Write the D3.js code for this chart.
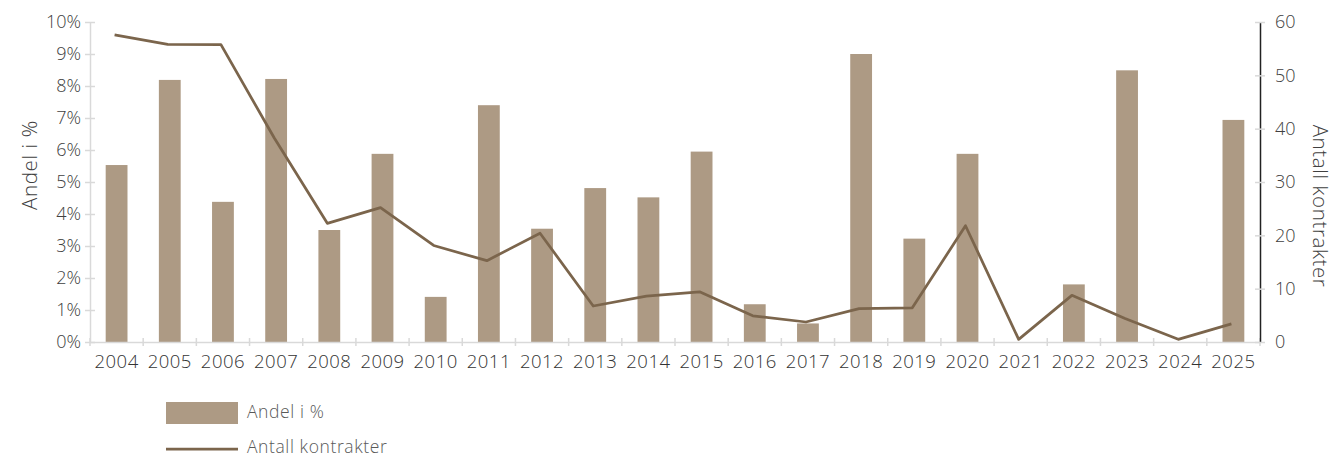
<!DOCTYPE html>
<html>
<head>
<meta charset="utf-8">
<script src="https://cdn.jsdelivr.net/npm/d3@7"></script>
<style>
  html, body { margin: 0; padding: 0; background: #fff; }
  svg { display: block; font-family: "Open Sans", "Noto Sans", sans-serif; font-weight: 300; }
</style>
</head>
<body>
<svg id="chart" width="1335" height="458"></svg>
<script>
// Years on the category axis
const years = ["2004","2005","2006","2007","2008","2009","2010","2011","2012","2013","2014",
               "2015","2016","2017","2018","2019","2020","2021","2022","2023","2024","2025"];
// Share in percent (bars, left axis)
const andel = [5.53, 8.19, 4.38, 8.22, 3.5, 5.88, 1.41, 7.4, 3.54, 4.81, 4.52,
               5.95, 1.18, 0.58, 9.0, 3.23, 5.88, 0, 1.8, 8.49, 0, 6.94];
// Number of contracts (line, right axis)
const antall = [57.6, 55.8, 55.75, 38.3, 22.25, 25.2, 18.1, 15.25, 20.4, 6.75, 8.6,
                9.4, 4.9, 3.75, 6.25, 6.4, 21.8, 0.5, 8.75, 4.4, 0.5, 3.4];
// Axis ticks
const leftTicks = [0,1,2,3,4,5,6,7,8,9,10];
const rightTicks = [0,10,20,30,40,50,60];

const barColor = "#ad9a84";
const lineColor = "#7b654c";
const gridGrey = "#d9d9d9";
const textColor = "#404040";

const svg = d3.select("#chart");
const m = { left: 90, right: 1260, top: 22, bottom: 342 };

const x = d3.scaleBand().domain(years).range([m.left, m.right]).paddingInner(0).paddingOuter(0);
const yL = d3.scaleLinear().domain([0, 10]).range([m.bottom, m.top]);
const yR = d3.scaleLinear().domain([0, 60]).range([m.bottom, m.top]);

// Bars
const barW = x.bandwidth() * 0.41;
svg.append("g").selectAll("rect").data(years).join("rect")
  .attr("x", (d) => x(d) + (x.bandwidth() - barW) / 2)
  .attr("width", barW)
  .attr("y", (d, i) => yL(andel[i]))
  .attr("height", (d, i) => yL(0) - yL(andel[i]))
  .attr("fill", barColor);

// Left axis
const gL = svg.append("g").attr("transform", `translate(${m.left},0)`)
  .call(d3.axisLeft(yL).tickValues(leftTicks).tickFormat(d => d + "%").tickSize(0).tickPadding(9));
gL.select(".domain").attr("stroke", gridGrey).attr("stroke-width", 1.5);
gL.selectAll(".tick").append("line").attr("x1", -5).attr("x2", 5).attr("stroke", gridGrey).attr("stroke-width", 1.5);
gL.selectAll("text").attr("font-size", 18).attr("fill", textColor).attr("font-family", "Open Sans").attr("font-weight", 300);

// Bottom axis
const gB = svg.append("g").attr("transform", `translate(0,${m.bottom})`)
  .call(d3.axisBottom(x).tickSize(0).tickPadding(13));
gB.select(".domain").attr("stroke", gridGrey).attr("stroke-width", 1.5);
gB.selectAll(".tick line").remove();
gB.selectAll("text").attr("font-size", 18.5).attr("letter-spacing", 0.5).attr("fill", "#333")
  .attr("font-family", "Open Sans").attr("font-weight", 300);
// Tick marks on the category boundaries
const bounds = years.map(d => x(d)).concat([m.right]);
gB.selectAll(".bound").data(bounds).join("line").attr("class", "bound")
  .attr("x1", d => d).attr("x2", d => d).attr("y1", -4).attr("y2", 4)
  .attr("stroke", gridGrey).attr("stroke-width", 1.5);

// Right axis
const gR = svg.append("g").attr("transform", `translate(${m.right},0)`)
  .call(d3.axisRight(yR).tickValues(rightTicks).tickSize(0).tickPadding(15));
gR.select(".domain").attr("stroke", "#222").attr("stroke-width", 1.5);
gR.selectAll(".tick").append("line").attr("x1", -5).attr("x2", 5).attr("stroke", gridGrey).attr("stroke-width", 1.5);
gR.selectAll("text").attr("font-size", 18).attr("fill", textColor).attr("font-family", "Open Sans").attr("font-weight", 300);

// Line
const line = d3.line()
  .x((d, i) => x(years[i]) + x.bandwidth() / 2 - 2)
  .y(d => yR(d));
svg.append("path").datum(antall)
  .attr("d", line)
  .attr("fill", "none")
  .attr("stroke", lineColor)
  .attr("stroke-width", 2.75)
  .attr("stroke-linejoin", "round");

// Axis titles
svg.append("text").attr("transform", "translate(37,165) rotate(-90)")
  .attr("text-anchor", "middle").attr("font-size", 20.5).attr("letter-spacing", 0.6).attr("fill", textColor)
  .text("Andel i %");
svg.append("text").attr("transform", "translate(1313,206) rotate(90)")
  .attr("text-anchor", "middle").attr("font-size", 20.5).attr("letter-spacing", 0.6).attr("fill", textColor)
  .text("Antall kontrakter");

// Legend
const lg = svg.append("g");
lg.append("rect").attr("x", 166).attr("y", 402).attr("width", 72).attr("height", 22).attr("fill", barColor);
lg.append("text").attr("x", 247).attr("y", 418).attr("font-size", 17.5).attr("letter-spacing", 0.6)
  .attr("fill", "#595959").text("Andel i %");
lg.append("line").attr("x1", 166).attr("x2", 238).attr("y1", 449).attr("y2", 449)
  .attr("stroke", lineColor).attr("stroke-width", 2.75);
lg.append("text").attr("x", 247).attr("y", 453).attr("font-size", 17.5).attr("letter-spacing", 0.6)
  .attr("fill", "#595959").text("Antall kontrakter");
</script>
</body>
</html>
